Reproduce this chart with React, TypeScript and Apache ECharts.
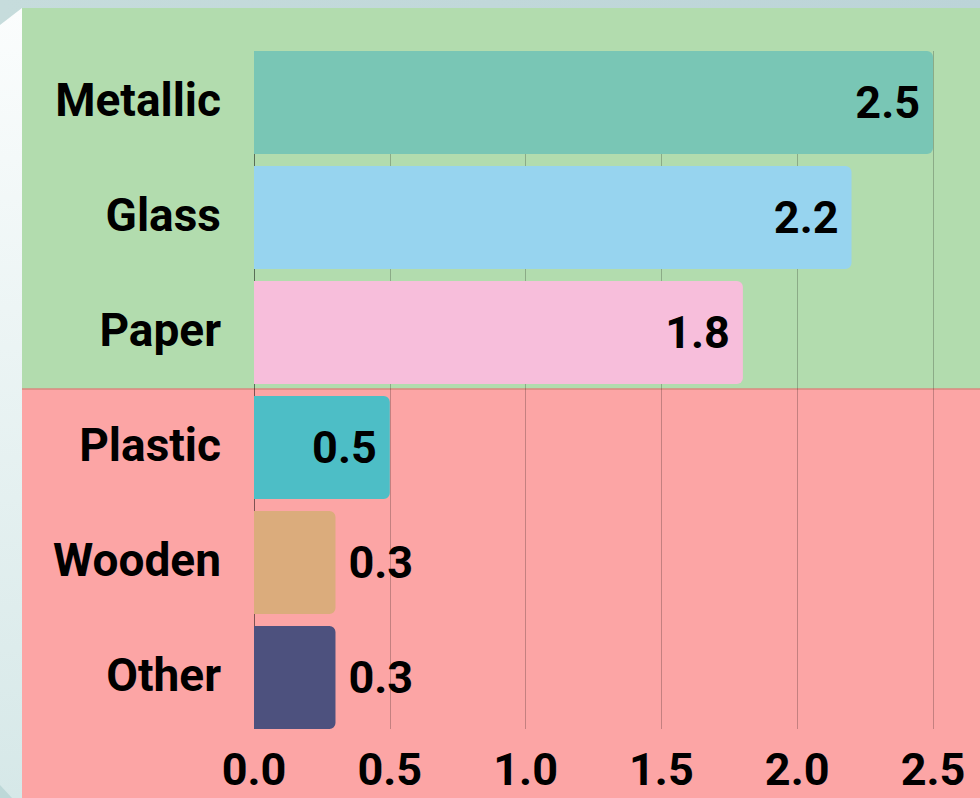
import React, { useEffect, useRef } from "react";
import * as echarts from "echarts";

const categories = ["Metallic", "Glass", "Paper", "Plastic", "Wooden", "Other"];
const values = [2.5, 2.2, 1.8, 0.5, 0.3, 0.3];
const barColors = ["#79c6b5", "#97d4ef", "#f7bedb", "#4dbec6", "#dbac7c", "#4d517e"];
const xTicks = [0, 0.5, 1.0, 1.5, 2.0, 2.5];

export default function App() {
  const ref = useRef<HTMLDivElement>(null);
  useEffect(() => {
    const chart = echarts.init(ref.current!, null, { renderer: "svg" });
    const font = "Roboto";
    const option: any = {
      animation: false,
      backgroundColor: new echarts.graphic.LinearGradient(0, 0, 1, 0, [
        { offset: 0, color: "#c6dcdc" },
        { offset: 1, color: "#bcd4d8" },
      ]),
      graphic: [
        {
          type: "polygon",
          z: -10,
          shape: { points: [[0, 25], [22, 8], [22, 798], [0, 798]] },
          style: {
            fill: new echarts.graphic.LinearGradient(0, 0, 0, 1, [
              { offset: 0, color: "#fbfdfd" },
              { offset: 1, color: "#d6e8e8" },
            ]),
          },
        },
        {
          type: "polygon",
          z: -9,
          shape: { points: [[0, 785], [12, 798], [0, 798]] },
          style: { fill: "#bdd8d8" },
        },
        {
          type: "rect",
          z: -10,
          shape: { x: 22, y: 8, width: 958, height: 381 },
          style: { fill: "#b2dcae" },
        },
        {
          type: "rect",
          z: -10,
          shape: { x: 22, y: 389, width: 958, height: 409 },
          style: { fill: "#fca5a5" },
        },
        {
          type: "line",
          z: -9,
          shape: { x1: 22, y1: 389, x2: 980, y2: 389 },
          style: { stroke: "#d98a7f", lineWidth: 1.5 },
        },
      ],
      grid: [
        { left: 254, right: 47, top: 45, bottom: 63 },
        { left: 254, right: 47, top: 51, bottom: 69 },
      ],
      xAxis: [
        { gridIndex: 0, type: "value", min: 0, max: 2.5, show: false },
        {
          gridIndex: 1,
          type: "value",
          min: 0,
          max: 2.5,
          interval: 0.5,
          axisLine: { show: false },
          axisTick: { show: false },
          axisLabel: {
            formatter: (v: number) => v.toFixed(1),
            fontFamily: font,
            fontWeight: "bold",
            fontSize: 45,
            color: "#000",
            margin: 18,
          },
          splitLine: {
            show: true,
            lineStyle: {
              color: [
                "rgba(0,0,0,0.5)",
                "rgba(0,0,0,0.22)",
                "rgba(0,0,0,0.22)",
                "rgba(0,0,0,0.22)",
                "rgba(0,0,0,0.22)",
                "rgba(0,0,0,0.22)",
              ],
              width: 1,
            },
          },
        },
      ],
      yAxis: [
        {
          gridIndex: 0,
          type: "category",
          data: categories,
          inverse: true,
          axisLine: { show: false },
          axisTick: { show: false },
          axisLabel: {
            fontFamily: font,
            fontWeight: "bold",
            fontSize: 46,
            color: "#000",
            margin: 33,
            verticalAlign: "bottom",
            lineHeight: 46,
            padding: [0, 0, -20, 0],
          },
        },
        { gridIndex: 1, type: "value", min: 0, max: 1, show: false },
      ],
      series: [
        {
          type: "bar",
          xAxisIndex: 0,
          yAxisIndex: 0,
          barWidth: 103,
          data: values.map((v, i) => ({
            value: v,
            itemStyle: { color: barColors[i], borderRadius: [0, 6, 6, 0] },
            label: {
              show: true,
              position: v >= 0.5 ? "insideRight" : "right",
              distance: 13,
              formatter: (p: any) => Number(p.value).toFixed(1),
              fontFamily: font,
              fontWeight: "bold",
              fontSize: 45,
              color: "#000",
            },
          })),
        },
      ],
    };
    chart.setOption(option);
    return () => chart.dispose();
  }, []);
  return (
    <div
      ref={ref}
      style={{ position: "fixed", left: 0, top: 0, width: 980, height: 798 }}
    />
  );
}
